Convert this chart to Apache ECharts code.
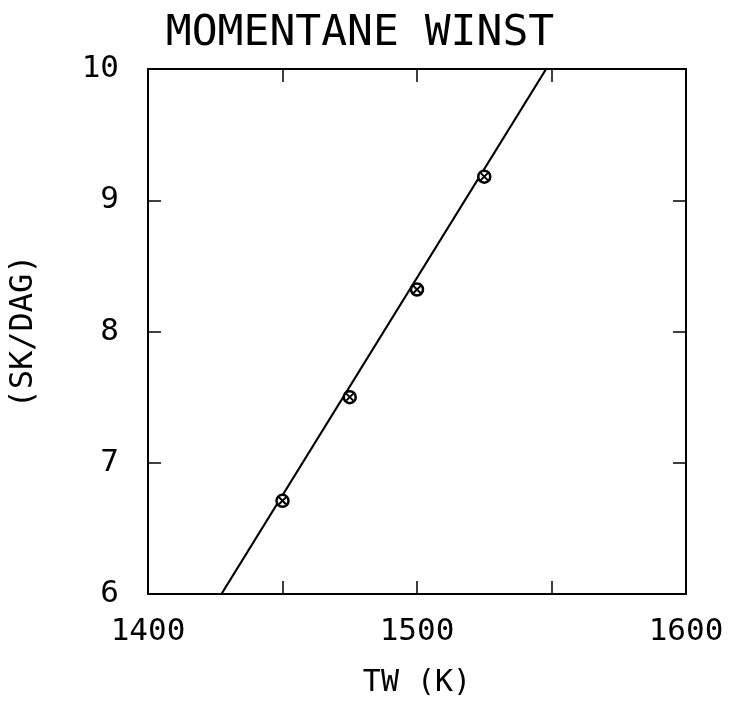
<!DOCTYPE html>
<html>
<head>
<meta charset="utf-8">
<script src="https://cdn.jsdelivr.net/npm/echarts@6/dist/echarts.min.js"></script>
<style>
html,body{margin:0;padding:0;background:#fff;}
#chart{width:731px;height:703px;}
</style>
</head>
<body>
<div id="chart"></div>
<script>
// Data
var pointX = [1450, 1475, 1500, 1525];
var pointY = [6.71, 7.50, 8.32, 9.18];
var lineX = [1427.3, 1548];
var lineY = [6, 10];
var xTicks = [1400, 1500, 1600];
var yTicks = [6, 7, 8, 9, 10];
var titleText = 'MOMENTANE WINST';
var xName = 'TW (K)';
var yName = '(SK/DAG)';

var FONT = 'DejaVu Sans Mono';
var chart = echarts.init(document.getElementById('chart'), null, {renderer: 'canvas'});

function pairs(xs, ys) { return xs.map(function (x, i) { return [x, ys[i]]; }); }

var xLabelFmt = function (v) { return xTicks.indexOf(v) >= 0 ? String(v) : ''; };
var yLabelFmt = function (v) { return yTicks.indexOf(v) >= 0 ? String(v) : ''; };
var axisLine = {show: true, lineStyle: {color: '#000', width: 2}};
var tick = {show: true, inside: true, length: 13, lineStyle: {color: '#000', width: 1.5}};

var option = {
  backgroundColor: '#fff',
  animation: false,
  title: {
    text: titleText,
    left: 355, top: 7, textAlign: 'center',
    textStyle: {fontFamily: FONT, fontSize: 43, fontWeight: 'normal', color: '#000'}
  },
  grid: {left: 144, right: 45, top: 69, bottom: 89},
  xAxis: [{
    type: 'value', min: 1400, max: 1600, interval: 50, position: 'bottom',
    name: xName, nameLocation: 'middle', nameGap: 74,
    nameTextStyle: {fontFamily: FONT, fontSize: 30, color: '#000'},
    axisLine: axisLine, axisTick: tick, splitLine: {show: false},
    axisLabel: {formatter: xLabelFmt, fontFamily: FONT, fontSize: 31, color: '#000', margin: 22, showMinLabel: true, showMaxLabel: true}
  }, {
    type: 'value', min: 1400, max: 1600, interval: 50, position: 'top',
    axisLine: axisLine, axisTick: tick, splitLine: {show: false}, axisLabel: {show: false}
  }],
  yAxis: [{
    type: 'value', min: 6, max: 10, interval: 1, position: 'left',
    name: yName, nameLocation: 'middle', nameGap: 108, nameRotate: 90,
    nameTextStyle: {fontFamily: FONT, fontSize: 32, color: '#000'},
    axisLine: axisLine, axisTick: tick, splitLine: {show: false},
    axisLabel: {formatter: yLabelFmt, fontFamily: FONT, fontSize: 31, color: '#000', margin: 29}
  }, {
    type: 'value', min: 6, max: 10, interval: 1, position: 'right',
    axisLine: axisLine, axisTick: tick, splitLine: {show: false}, axisLabel: {show: false}
  }],
  series: [{
    type: 'line', data: pairs(lineX, lineY), symbol: 'none', clip: true,
    lineStyle: {color: '#000', width: 2.2}
  }, {
    type: 'scatter', data: pairs(pointX, pointY), symbol: 'circle', symbolSize: 12,
    itemStyle: {color: '#fff', borderColor: '#000', borderWidth: 2.5, opacity: 1}, z: 3
  }, {
    type: 'scatter', data: pairs(pointX, pointY),
    symbol: 'path://M0,0L10,10M10,0L0,10', symbolSize: 7,
    itemStyle: {color: 'none', borderColor: '#000', borderWidth: 2, opacity: 1}, z: 4
  }]
};
chart.setOption(option);
</script>
</body>
</html>
